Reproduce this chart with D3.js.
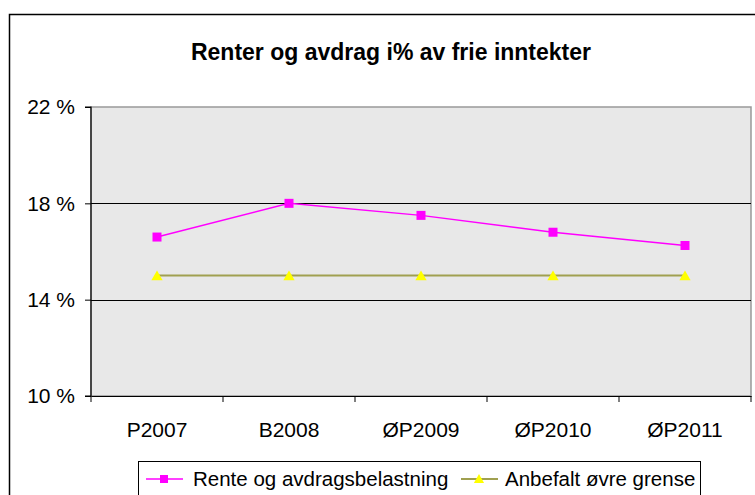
<!DOCTYPE html>
<html>
<head>
<meta charset="utf-8">
<script src="https://cdn.jsdelivr.net/npm/d3@7"></script>
<style>
  body { margin: 0; background: #fff; }
  svg { display: block; font-family: "Liberation Sans", Arial, sans-serif; }
</style>
</head>
<body>
<div id="chart"></div>
<script>
var categories = ['P2007', 'B2008', 'ØP2009', 'ØP2010', 'ØP2011'];
var renteValues = [16.6, 18.0, 17.5, 16.8, 16.25];
var grenseValues = [15, 15, 15, 15, 15];
var yTicks = [10, 14, 18, 22];
var seriesNames = ['Rente og avdragsbelastning', 'Anbefalt øvre grense'];

var W = 755, H = 495;
var plot = { left: 91, right: 751, top: 107, bottom: 396 };

var svg = d3.select('#chart')
    .append('svg')
    .attr('width', W)
    .attr('height', H);

// outer chart frame
svg.append('rect')
    .attr('x', 9.5).attr('y', 14.5)
    .attr('width', W).attr('height', H)
    .attr('fill', '#fff')
    .attr('stroke', '#000')
    .attr('stroke-width', 1.5);

svg.append('text')
    .attr('x', 391).attr('y', 60)
    .attr('text-anchor', 'middle')
    .attr('font-size', 23)
    .attr('font-weight', 'bold')
    .text('Renter og avdrag i% av frie inntekter');

var x = d3.scaleBand()
    .domain(categories)
    .range([plot.left, plot.right]);

var y = d3.scaleLinear()
    .domain([10, 22])
    .range([plot.bottom, plot.top]);

// plot area
svg.append('rect')
    .attr('x', plot.left).attr('y', plot.top)
    .attr('width', plot.right - plot.left)
    .attr('height', plot.bottom - plot.top)
    .attr('fill', '#e8e8e8')
    .attr('stroke', '#999')
    .attr('stroke-width', 1.5);

// gridlines
svg.append('g')
    .selectAll('line')
    .data(yTicks.slice(1, -1))
    .enter()
    .append('line')
        .attr('x1', plot.left).attr('x2', plot.right)
        .attr('y1', function(d) { return Math.round(y(d)) + 0.5; })
        .attr('y2', function(d) { return Math.round(y(d)) + 0.5; })
        .attr('stroke', '#000')
        .attr('stroke-width', 1);

// y axis
var yAxis = svg.append('g')
    .attr('transform', 'translate(' + plot.left + ',0)')
    .call(d3.axisLeft(y)
        .tickValues(yTicks)
        .tickSize(6)
        .tickPadding(10)
        .tickFormat(function(d) { return d + ' %'; }));

// x axis
var xTickPos = categories.map(function(c) { return x(c); }).concat([plot.right]);
var xAxis = svg.append('g')
    .attr('transform', 'translate(0,' + plot.bottom + ')')
    .call(d3.axisBottom(x).tickSize(0).tickPadding(26));
xAxis.selectAll('.tick line').remove();
xAxis.selectAll('.xt')
    .data(xTickPos)
    .enter()
    .append('line')
        .attr('x1', function(d) { return d; })
        .attr('x2', function(d) { return d; })
        .attr('y1', 0).attr('y2', 6)
        .attr('stroke', '#000');

[yAxis, xAxis].forEach(function(g) {
    g.attr('font-size', 21).attr('font-family', '"Liberation Sans", Arial, sans-serif');
    g.selectAll('.domain').attr('stroke', '#000').attr('stroke-width', 1.2);
    g.selectAll('text').attr('fill', '#000').attr('font-size', 21);
});
yAxis.select('.domain').attr('d', 'M-6,' + plot.top + 'H0V' + plot.bottom + 'H-6');

var cx = function(d, i) { return x(categories[i]) + x.bandwidth() / 2; };

var line = d3.line()
    .x(function(d, i) { return x(categories[i]) + x.bandwidth() / 2; })
    .y(function(d) { return y(d); });

// grense series
svg.append('path')
    .datum(grenseValues)
    .attr('d', line)
    .attr('fill', 'none')
    .attr('stroke', '#a0a050')
    .attr('stroke-width', 2);

var tri = d3.symbol().type(d3.symbolTriangle).size(55);
svg.selectAll('.tri')
    .data(grenseValues)
    .enter()
    .append('path')
        .attr('d', tri)
        .attr('transform', function(d, i) { return 'translate(' + cx(d, i) + ',' + (y(d) + 1.5) + ')'; })
        .attr('fill', '#ffff00');

// rente series
svg.append('path')
    .datum(renteValues)
    .attr('d', line)
    .attr('fill', 'none')
    .attr('stroke', '#ff00ff')
    .attr('stroke-width', 1.5);

svg.selectAll('.sq')
    .data(renteValues)
    .enter()
    .append('rect')
        .attr('x', function(d, i) { return cx(d, i) - 4.5; })
        .attr('y', function(d) { return y(d) - 4.5; })
        .attr('width', 9).attr('height', 9)
        .attr('fill', '#ff00ff');

// legend
var leg = svg.append('g');
leg.append('rect')
    .attr('x', 138.5).attr('y', 461.5)
    .attr('width', 562).attr('height', 50)
    .attr('fill', '#fff')
    .attr('stroke', '#000')
    .attr('stroke-width', 1);

var legItems = [
    { name: seriesNames[0], x: 146, tx: 193, color: '#ff00ff', mark: 'sq' },
    { name: seriesNames[1], x: 461, tx: 505, color: '#a0a050', mark: 'tri' }
];
legItems.forEach(function(it) {
    var ly = 479;
    leg.append('line')
        .attr('x1', it.x).attr('x2', it.x + 37)
        .attr('y1', ly).attr('y2', ly)
        .attr('stroke', it.color)
        .attr('stroke-width', it.mark === 'tri' ? 2 : 1.5);
    if (it.mark === 'sq') {
        leg.append('rect')
            .attr('x', it.x + 18 - 4).attr('y', ly - 4)
            .attr('width', 8).attr('height', 8)
            .attr('fill', '#ff00ff');
    } else {
        leg.append('path')
            .attr('d', d3.symbol().type(d3.symbolTriangle).size(45))
            .attr('transform', 'translate(' + (it.x + 18) + ',' + (ly + 1) + ')')
            .attr('fill', '#ffff00');
    }
    leg.append('text')
        .attr('x', it.tx).attr('y', ly + 7)
        .attr('font-size', 20.5)
        .text(it.name);
});
</script>
</body>
</html>
